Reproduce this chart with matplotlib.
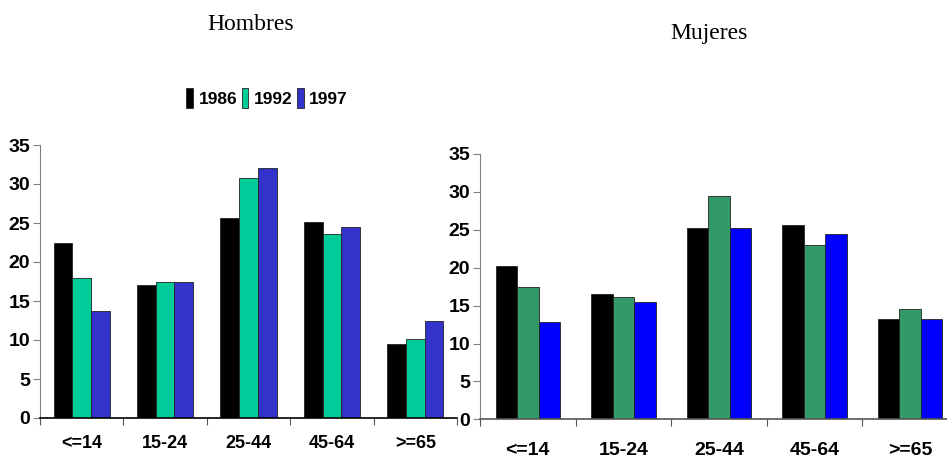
import numpy as np
from matplotlib import pyplot as plt
from matplotlib import font_manager as fm

grupos = ["<=14", "15-24", "25-44", "45-64", ">=65"]
anios = ["1986", "1992", "1997"]

hombres_1986 = [22.5, 17.1, 25.7, 25.1, 9.5]
hombres_1992 = [18.0, 17.5, 30.8, 23.6, 10.1]
hombres_1997 = [13.7, 17.4, 32.1, 24.5, 12.4]

mujeres_1986 = [20.2, 16.5, 25.3, 25.6, 13.2]
mujeres_1992 = [17.4, 16.2, 29.5, 23.0, 14.6]
mujeres_1997 = [12.8, 15.5, 25.3, 24.5, 13.2]

colores_h = ["#000000", "#00cc99", "#3333cc"]
colores_m = ["#000000", "#339966", "#0000ff"]

nombres = {f.name for f in fm.fontManager.ttflist}
fuente = "Liberation Sans Narrow" if "Liberation Sans Narrow" in nombres else "Liberation Sans"

W, H = 947, 462


def caja(x0, x1, y_top, y_zero):
    return [x0 / W, (H - y_zero) / H, (x1 - x0) / W, (y_zero - y_top) / H]


def panel(ax, series, colores, pad_lbl, eje_x, tam_x):
    n = len(grupos)
    x = np.arange(n) + 0.5
    w = 0.225
    barras = []
    for i, (vals, c) in enumerate(zip(series, colores)):
        b = ax.bar(x + (i - 1) * w, vals, w, color=c, edgecolor="#222222", linewidth=0.6)
        barras.append(b)
    ax.set_xlim(0, n)
    ax.set_ylim(0, 35)
    ax.set_yticks(range(0, 36, 5))
    ax.set_xticks(range(0, n + 1))
    ax.set_xticklabels([])
    ax.set_xticks(x, minor=True)
    ax.set_xticklabels(grupos, minor=True, fontfamily=fuente, fontweight="bold", fontsize=tam_x)
    ax.tick_params(axis="x", which="minor", length=0, pad=pad_lbl)
    ax.tick_params(axis="x", which="major", length=5, direction="out", color="#555555")
    ax.tick_params(axis="y", length=5, direction="out", color="#808080", pad=2)
    for t in ax.get_yticklabels():
        t.set_fontfamily(fuente)
        t.set_fontweight("bold")
        t.set_fontsize(14)
    for s in ["top", "right"]:
        ax.spines[s].set_visible(False)
    ax.spines["left"].set_color("#808080")
    ax.spines["bottom"].set_color(eje_x)
    ax.spines["bottom"].set_linewidth(1.2)
    ax.patch.set_alpha(0)
    return barras


fig = plt.figure(figsize=(W / 100, H / 100), dpi=100)

ax1 = fig.add_axes(caja(40, 457, 145, 418))
barras = panel(ax1, [hombres_1986, hombres_1992, hombres_1997], colores_h, 12, "#000000", 13)

ax2 = fig.add_axes(caja(480, 958, 154, 419.3))
panel(ax2, [mujeres_1986, mujeres_1992, mujeres_1997], colores_m, 16, "#555555", 14)

fig.text(251 / W, 1 - 25 / H, "Hombres", ha="center", va="center",
         fontfamily="Liberation Serif", fontsize=17)
fig.text(709 / W, 1 - 34 / H, "Mujeres", ha="center", va="center",
         fontfamily="Liberation Serif", fontsize=17)

fig.legend([b[0] for b in barras], anios, loc="center", bbox_to_anchor=(267 / W, 1 - 98 / H),
           ncol=3, frameon=False, handlelength=0.4, handleheight=1.4, handletextpad=0.3,
           columnspacing=0.25, borderaxespad=0,
           prop={"family": fuente, "weight": "bold", "size": 12.5})

fig.savefig("out.png", dpi=100)
